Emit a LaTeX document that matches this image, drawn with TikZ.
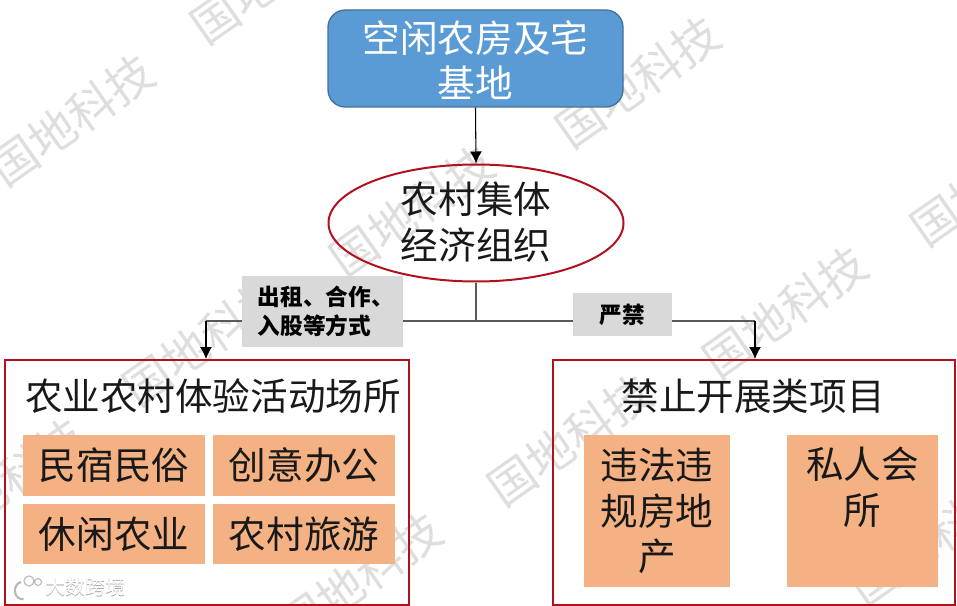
\documentclass[tikz,border=0pt]{standalone}
\usepackage{fontspec}
\setmainfont{Noto Sans CJK SC}
\usetikzlibrary{arrows.meta,shapes.geometric}
\definecolor{bluebox}{HTML}{5B9BD5}
\definecolor{blueedge}{HTML}{41719C}
\definecolor{redline}{HTML}{B01020}
\definecolor{orangebox}{HTML}{F4B183}
\definecolor{greybox}{HTML}{D9D9D9}
\definecolor{linegrey}{HTML}{595959}
\tikzset{
  px/.style={x=0.75pt,y=-0.75pt},
  bigtext/.style={font=\fontsize{28.2pt}{34pt}\selectfont,align=center,text=black!90,inner sep=0pt},
  frame/.style={draw=redline,line width=1.5pt,fill=none},
  tile/.style={fill=orangebox,draw=none,anchor=center,font=\fontsize{28.2pt}{34pt}\selectfont,align=center,text=black!90,inner sep=0pt},
  tag/.style={fill=greybox,draw=none,font=\fontsize{17pt}{22pt}\selectfont\bfseries,align=left,text=black,inner sep=0pt},
  conn/.style={draw=linegrey,line width=1pt},
  arrowconn/.style={draw=black,line width=0.8pt,-{Latex[length=9pt,width=9pt]}},
  wmark/.style={text=black!13,font=\fontsize{35pt}{35pt}\selectfont,rotate=35,inner sep=0pt}
}
\begin{document}
\begin{tikzpicture}[px]
\useasboundingbox (0,0) rectangle (957,606);
\fill[white] (0,0) rectangle (957,606);
% watermarks
\node[wmark] (w1) at (72,120) {国地科技};
\node[wmark] (w2) at (638,82) {国地科技};
\node[wmark] (w3) at (412,211) {国地科技};
\node[wmark] (w4) at (785,312) {国地科技};
\node[wmark] (w5) at (570,440) {国地科技};
\node[wmark] (w6) at (360,578) {国地科技};
\node[wmark] (w7) at (932,540) {国地科技};
\node[wmark] (w8) at (993,180) {国地科技};
\node[wmark] (w9) at (273,-22) {国地科技};
\node[wmark] (w10) at (205,340) {国地科技};
\node[wmark] (w11) at (3,484) {国地科技};
% main nodes
\node[draw=blueedge,line width=1pt,fill=bluebox,rounded corners=13pt,minimum width=295*0.75pt,minimum height=97*0.75pt,inner sep=0pt] (top) at (475.5,58.5) {};
\node[bigtext,text=white] (toptext) at (475.5,60) {空闲农房及宅\\基地};
\node[draw=redline,line width=1.5pt,fill=none,ellipse,minimum width=295*0.75pt,minimum height=117*0.75pt,inner sep=0pt] (org) at (476,223) {};
\node[bigtext] (orgtext) at (476,222) {农村集体\\经济组织};
\coordinate (hub) at (476,321);
\coordinate (lturn) at (206,321);
\coordinate (rturn) at (755,321);
% frames
\node[frame,minimum width=404*0.75pt,minimum height=245*0.75pt,inner sep=0pt] (lframe) at (206.5,482.5) {};
\node[frame,minimum width=402*0.75pt,minimum height=245*0.75pt,inner sep=0pt] (rframe) at (754,482.5) {};
% connectors
\draw[arrowconn] (top.south) -- (org.north);
\draw[conn] (org.south) -- (hub);
\draw[conn] (lturn) -- (rturn);
\draw[arrowconn] (lturn) -- (lturn |- lframe.north);
\draw[arrowconn] (rturn) -- (rturn |- rframe.north);
% tags
\node[tag,minimum width=161*0.75pt,minimum height=71*0.75pt] (tag1) at (322.5,311.5) {\hspace*{5pt}出租、合作、\\\hspace*{5pt}入股等方式};
\node[tag,minimum width=99*0.75pt,minimum height=43*0.75pt] (tag2) at (622.5,314.5) {严禁};
% left
\node[bigtext] (ltitle) at (213,396) {农业农村体验活动场所};
\node[tile,minimum width=182*0.75pt,minimum height=61*0.75pt] (a1) at (114,465.5) {民宿民俗};
\node[tile,minimum width=182*0.75pt,minimum height=61*0.75pt] (a2) at (304,465.5) {创意办公};
\node[tile,minimum width=182*0.75pt,minimum height=60*0.75pt] (a3) at (114,534) {休闲农业};
\node[tile,minimum width=182*0.75pt,minimum height=60*0.75pt] (a4) at (304,534) {农村旅游};
% right
\node[bigtext] (rtitle) at (753,396) {禁止开展类项目};
\node[tile,minimum width=146*0.75pt,minimum height=152*0.75pt,anchor=north] (b1) at (657,435) {};
\node[bigtext] (b1t) at (657,511) {违法违\\规房地\\产};
\node[tile,minimum width=151*0.75pt,minimum height=152*0.75pt,anchor=north] (b2) at (862.5,435) {};
\node[bigtext,anchor=north] (b2t) at (862.5,447) {私人会\\所};
% logo
\draw[black!28,line width=1.6pt] (21,582) arc (100:280:5.5pt and 6.5pt);
\draw[black!28,line width=0.8pt] (29,581) circle (3.8pt) (38,582) circle (2.6pt);
\node[text=black!35,font=\fontsize{15pt}{15pt}\selectfont,inner sep=0pt] (brandshadow) at (85.7,587.7) {大数跨境};
\node[text=white,font=\fontsize{15pt}{15pt}\selectfont,inner sep=0pt] (brand) at (85,587) {大数跨境};
\end{tikzpicture}
\end{document}
